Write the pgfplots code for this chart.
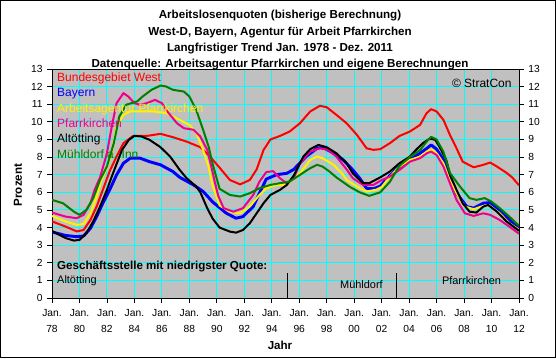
\documentclass[border=0pt]{standalone}
\usepackage{pgfplots}
\pgfplotsset{compat=1.18}
\usepackage{fontspec}
\setmainfont{Liberation Sans}
\definecolor{plotgray}{HTML}{C0C0C0}
\definecolor{gridcyan}{HTML}{00FFFF}
\definecolor{dgreen}{HTML}{008000}
\begin{document}
\begin{tikzpicture}
\path[use as bounding box] (0,0) rectangle (417pt,268.5pt);
\fill[white] (0,0) rectangle (417pt,268.5pt);
\draw[line width=1pt] (0.5pt,0.5pt) rectangle (416.5pt,268pt);
\begin{axis}[
  at={(39pt,45pt)}, anchor=south west, scale only axis,
  width=350.25pt, height=171.75pt,
  xmin=1978, xmax=2012, ymin=0, ymax=13,
  axis background/.style={fill=plotgray},
  axis line style={black, line width=0.75pt},
  xtick={1978,1980,...,2012},
  xticklabels={Jan.\\78,Jan.\\80,Jan.\\82,Jan.\\84,Jan.\\86,Jan.\\88,Jan.\\90,Jan.\\92,Jan.\\94,Jan.\\96,Jan.\\98,Jan.\\00,Jan.\\02,Jan.\\04,Jan.\\06,Jan.\\08,Jan.\\10,Jan.\\12},
  xticklabel style={align=center, font=\fontsize{7.7}{12}\selectfont, yshift=-1.5pt},
  xtick pos=lower,
  minor x tick num=5,
  ytick={0,1,...,13},
  ytick pos=left,
  yticklabel style={font=\fontsize{7.7}{9}\selectfont},
  /pgf/number format/assume math mode=true,
  grid=major,
  major grid style={gridcyan, line width=0.75pt},
  tick align=outside,
  major tick length=3.5pt, minor tick length=2.5pt,
  tick style={black, line width=0.6pt},
  clip=true,
]
\addplot[red, line width=1.5pt, line join=round] coordinates {
(1978.0,4.35) (1979.0,4.05) (1979.8,3.78) (1980.3,3.86) (1980.8,4.43) (1981.25,5.19) (1981.7,6.14) (1982.2,7.2) (1982.7,8.03) (1983.2,8.79) (1983.9,9.2) (1984.9,9.2) (1985.9,9.32) (1986.8,9.13) (1987.8,8.88) (1988.8,8.56) (1989.5,8.03) (1990.2,7.4) (1990.95,6.7) (1991.7,6.45) (1992.4,6.7) (1992.9,7.3) (1993.4,8.4) (1993.9,9.0) (1994.6,9.2) (1995.3,9.45) (1996.05,9.92) (1996.8,10.59) (1997.5,10.91) (1998.0,10.83) (1998.7,10.4) (1999.45,9.92) (2000.2,9.26) (2000.9,8.5) (2001.4,8.41) (2001.9,8.45) (2002.6,8.79) (2003.3,9.2) (2004.06,9.45) (2004.8,9.83) (2005.27,10.49) (2005.6,10.72) (2006.0,10.59) (2006.5,10.11) (2006.97,9.26) (2007.45,8.5) (2007.9,7.74) (2008.7,7.42) (2009.4,7.56) (2009.9,7.69) (2010.4,7.46) (2011.1,7.1) (2011.5,6.85) (2012.0,6.4)
};
\addplot[blue, line width=2.2pt, line join=round] coordinates {
(1978.0,3.75) (1979.0,3.55) (1979.8,3.48) (1980.3,3.52) (1980.8,3.96) (1981.25,4.62) (1981.7,5.38) (1982.2,6.14) (1982.7,6.99) (1983.2,7.65) (1983.7,7.94) (1984.4,7.94) (1985.1,7.74) (1985.9,7.56) (1986.8,7.18) (1987.3,6.85) (1988.3,6.42) (1989.0,6.05) (1989.7,5.45) (1990.7,4.81) (1991.4,4.53) (1991.9,4.62) (1992.65,5.19) (1993.1,5.95) (1993.6,6.75) (1994.35,7.0) (1995.1,7.08) (1995.6,7.3) (1996.5,8.03) (1997.3,8.5) (1997.7,8.56) (1998.5,8.22) (1999.2,7.84) (1999.9,7.27) (2000.4,6.8) (2000.9,6.23) (2001.4,6.2) (2001.9,6.35) (2002.6,6.95) (2003.3,7.46) (2004.05,7.84) (2004.8,8.22) (2005.3,8.5) (2005.6,8.69) (2006.0,8.45) (2006.5,7.84) (2006.85,7.08) (2007.45,5.95) (2008.2,5.19) (2008.7,5.10) (2009.4,5.38) (2009.9,5.42) (2010.6,5.0) (2011.3,4.43) (2012.0,3.98)
};
\addplot[yellow, line width=1.5pt, line join=round] coordinates {
(1978.0,4.66) (1979.0,4.34) (1979.8,4.15) (1980.3,4.2) (1980.8,4.81) (1981.25,5.76) (1981.6,6.7) (1982.0,7.4) (1982.35,8.22) (1982.7,9.73) (1983.2,10.4) (1983.7,10.59) (1984.4,10.59) (1985.4,10.59) (1986.35,10.49) (1987.3,10.11) (1988.0,9.83) (1988.5,9.36) (1989.0,8.41) (1989.4,7.46) (1989.65,6.5) (1990.2,5.25) (1990.95,4.9) (1991.7,4.81) (1992.4,5.19) (1993.0,5.76) (1993.6,6.23) (1994.35,6.42) (1995.1,6.42) (1995.6,6.8) (1996.05,7.08) (1996.8,7.84) (1997.3,8.03) (1997.7,7.94) (1998.5,7.56) (1999.2,6.99) (1999.45,6.70) (2000.2,6.33) (2000.9,6.04) (2001.6,6.15) (2002.0,6.3) (2002.6,6.89) (2003.3,7.46) (2004.06,7.84) (2004.8,8.03) (2005.3,8.31) (2005.6,8.45) (2006.0,8.22) (2006.5,7.65) (2006.9,6.8) (2007.45,5.95) (2008.06,5.19) (2008.7,5.04) (2009.4,5.23) (2009.75,5.28) (2010.6,4.81) (2011.3,4.24) (2012.0,3.88)
};
\addplot[magenta, line width=1.5pt, line join=round] coordinates {
(1978.0,4.85) (1979.0,4.62) (1979.8,4.53) (1980.3,4.72) (1980.8,5.38) (1981.1,6.14) (1981.5,6.85) (1982.0,8.22) (1982.35,9.73) (1982.7,11.06) (1983.2,11.63) (1983.55,11.44) (1984.0,11.06) (1984.4,10.97) (1984.9,11.06) (1985.5,11.25) (1986.0,11.06) (1986.5,10.49) (1987.1,9.92) (1987.6,9.64) (1988.3,9.55) (1988.8,9.17) (1989.3,8.41) (1989.6,7.46) (1989.85,6.6) (1990.1,5.8) (1990.5,5.1) (1991.2,4.9) (1991.9,5.1) (1992.65,5.85) (1993.1,6.6) (1993.6,7.15) (1994.1,7.2) (1994.6,6.8) (1995.1,6.5) (1995.6,6.8) (1996.05,7.65) (1996.8,8.31) (1997.5,8.5) (1998.1,8.41) (1998.7,8.03) (1999.45,7.3) (1999.9,6.8) (2000.65,6.42) (2001.4,6.42) (2001.9,6.65) (2002.6,6.9) (2003.3,7.27) (2004.06,7.74) (2004.8,7.94) (2005.3,8.22) (2005.6,8.31) (2006.0,8.12) (2006.5,7.46) (2006.97,6.52) (2007.45,5.57) (2008.06,4.81) (2008.7,4.66) (2009.4,4.81) (2009.9,4.72) (2010.6,4.43) (2011.3,4.05) (2012.0,3.65)
};
\addplot[black, line width=1.5pt, line join=round] coordinates {
(1978.0,3.8) (1979.0,3.4) (1979.6,3.26) (1980.0,3.30) (1980.5,3.67) (1981.0,4.34) (1981.5,5.19) (1982.0,6.14) (1982.35,6.89) (1982.6,7.4) (1983.1,8.41) (1983.6,8.98) (1984.0,9.2) (1984.5,9.17) (1985.1,8.98) (1985.9,8.56) (1986.6,8.03) (1987.3,7.27) (1987.8,6.8) (1988.5,6.33) (1988.8,6.0) (1989.3,5.1) (1989.7,4.5) (1990.2,4.0) (1990.95,3.77) (1991.4,3.71) (1991.9,3.86) (1992.4,4.24) (1992.9,4.81) (1993.4,5.38) (1993.9,5.85) (1994.6,6.14) (1995.1,6.42) (1995.6,6.95) (1996.3,8.03) (1996.8,8.45) (1997.4,8.69) (1998.0,8.56) (1998.7,8.22) (1999.45,7.65) (1999.9,7.08) (2000.4,6.7) (2000.65,6.52) (2001.1,6.52) (2001.9,6.85) (2002.6,7.18) (2003.3,7.65) (2004.06,8.03) (2004.5,8.41) (2005.0,8.79) (2005.5,9.05) (2005.9,8.98) (2006.2,8.6) (2006.7,7.84) (2007.0,6.95) (2007.45,6.14) (2007.9,5.38) (2008.4,4.9) (2008.9,4.85) (2009.4,5.19) (2009.75,5.28) (2010.4,4.9) (2011.1,4.34) (2012.0,3.82)
};
\addplot[dgreen, line width=1.5pt, line join=round] coordinates {
(1978.0,5.57) (1978.8,5.38) (1979.6,4.90) (1980.0,4.72) (1980.5,5.0) (1981.0,5.67) (1981.5,6.7) (1982.0,7.46) (1982.5,8.79) (1982.9,10.3) (1983.4,10.97) (1984.2,11.16) (1984.6,11.44) (1985.25,11.82) (1985.9,12.06) (1986.3,12.01) (1986.8,11.82) (1987.6,11.72) (1988.0,11.44) (1988.5,10.68) (1989.0,9.55) (1989.4,8.6) (1989.7,7.6) (1990.2,6.2) (1990.95,5.85) (1991.7,5.76) (1992.4,5.95) (1993.1,6.23) (1993.9,6.42) (1994.6,6.52) (1995.3,6.61) (1996.05,6.99) (1996.8,7.37) (1997.3,7.56) (1997.7,7.46) (1998.2,7.18) (1998.7,6.85) (1999.7,6.3) (2000.4,6.0) (2001.1,5.8) (2001.9,6.0) (2002.6,6.6) (2003.3,7.5) (2004.06,8.0) (2004.8,8.4) (2005.3,8.9) (2005.6,9.15) (2006.0,9.0) (2006.5,8.3) (2006.97,7.1) (2007.7,6.33) (2008.4,5.67) (2008.9,5.57) (2009.5,5.67) (2010.0,5.47) (2010.6,5.1) (2011.3,4.62) (2012.0,4.1)
};
\addplot[black, line width=0.75pt] coordinates {(1995.15,0) (1995.15,1.42)};
\addplot[black, line width=0.75pt] coordinates {(2003.05,0) (2003.05,1.42)};
\begin{scope}[every node/.style={anchor=west, inner sep=0pt, font=\fontsize{9}{10}\selectfont}]
\node[text=red] at (axis cs:1978.36,12.44) {Bundesgebiet West};
\node[text=blue] at (axis cs:1978.36,11.59) {Bayern};
\node[text=yellow] at (axis cs:1978.36,10.72) {Arbeitsagentur Pfarrkirchen};
\node[text=magenta] at (axis cs:1978.36,9.93) {Pfarrkirchen};
\node[text=black] at (axis cs:1978.36,9.02) {Altötting};
\node[text=dgreen] at (axis cs:1978.36,8.16) {Mühldorf a. Inn};
\end{scope}
\node[anchor=east, inner sep=0pt, font=\fontsize{9}{10}\selectfont] at (axis cs:2011.48,12.16) {© StratCon};
\node[anchor=west, inner sep=0pt, font=\bfseries\fontsize{8.7}{9}\selectfont] at (axis cs:1978.36,1.78) {Geschäftsstelle mit niedrigster Quote:};
\node[anchor=west, inner sep=0pt, font=\fontsize{8.2}{9}\selectfont] at (axis cs:1978.36,0.97) {Altötting};
\node[anchor=west, inner sep=0pt, font=\fontsize{8.2}{9}\selectfont] at (axis cs:1998.96,0.74) {Mühldorf};
\node[anchor=west, inner sep=0pt, font=\fontsize{8.2}{9}\selectfont] at (axis cs:2006.38,0.97) {Pfarrkirchen};
\end{axis}
\begin{axis}[
  at={(39pt,45pt)}, anchor=south west, scale only axis,
  width=350.25pt, height=171.75pt,
  xmin=1978, xmax=2012, ymin=0, ymax=13,
  hide x axis,
  axis y line*=right,
  axis line style={black, line width=0.75pt},
  ytick={0,1,...,13},
  yticklabel style={font=\fontsize{7.7}{9}\selectfont},
  /pgf/number format/assume math mode=true,
  tick align=outside, major tick length=3.5pt,
  tick style={black, line width=0.6pt},
]
\end{axis}
\begin{scope}[every node/.style={font=\bfseries\fontsize{8.7}{9}\selectfont, inner sep=0pt}]
\node at (210pt,256.5pt) {Arbeitslosenquoten (bisherige Berechnung)};
\node at (210pt,244.05pt) {West-D, Bayern, Agentur für Arbeit Pfarrkirchen};
\node at (210pt,231.75pt) {Langfristiger Trend Jan. 1978 - Dez. 2011};
\node at (210pt,220.1pt) {Datenquelle: Arbeitsagentur Pfarrkirchen und eigene Berechnungen};
\node[rotate=90] at (13.5pt,129.75pt) {Prozent};
\node at (210pt,9.75pt) {Jahr};
\end{scope}
\end{tikzpicture}
\end{document}
